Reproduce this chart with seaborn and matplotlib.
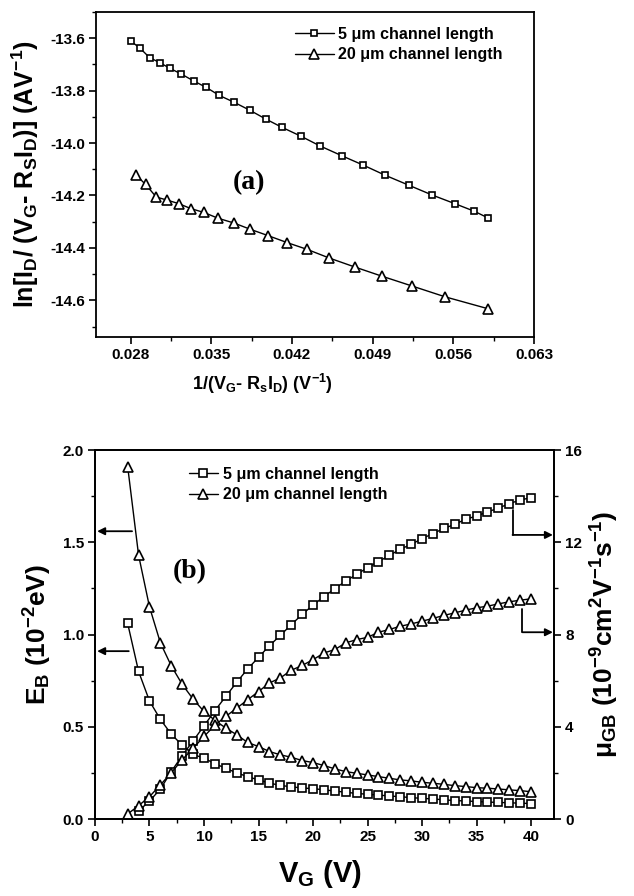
''' Two-panel figure: (a) ln[I_D/(V_G - R_S I_D)] vs 1/(V_G - R_S I_D), (b) barrier height and GB mobility vs V_G. '''

import matplotlib
matplotlib.use('Agg')
import matplotlib.pyplot as plt
import seaborn as sns
from matplotlib.ticker import MultipleLocator, FormatStrFormatter
from matplotlib.lines import Line2D

# ---- panel (a) data ----
inv_v_5um = [0.0280, 0.02884, 0.02965, 0.03052, 0.03142, 0.03241, 0.03351, 0.03458, 0.03568,
             0.03696, 0.03835, 0.03971, 0.04113, 0.04278, 0.04443, 0.04635, 0.04817, 0.05009,
             0.05214, 0.05414, 0.05611, 0.0578, 0.05902]
ln_i_5um = [-13.610, -13.639, -13.674, -13.693, -13.715, -13.737, -13.764, -13.788, -13.818,
            -13.844, -13.875, -13.908, -13.940, -13.974, -14.011, -14.049, -14.084, -14.123,
            -14.161, -14.198, -14.231, -14.260, -14.286]
inv_v_20um = [0.02850, 0.02930, 0.03023, 0.03119, 0.03217, 0.03322, 0.03437, 0.03559, 0.03696,
              0.03838, 0.03991, 0.04159, 0.04333, 0.04525, 0.04745, 0.0498, 0.05238, 0.0553,
              0.05899]
ln_i_20um = [-14.123, -14.158, -14.206, -14.218, -14.231, -14.250, -14.265, -14.287, -14.305,
             -14.329, -14.353, -14.380, -14.406, -14.439, -14.473, -14.508, -14.545, -14.587,
             -14.632]

# ---- panel (b) data ----
vg = list(range(3, 41))
eb_5um = [1.06, 0.80, 0.64, 0.54, 0.46, 0.40, 0.35, 0.33, 0.30, 0.275, 0.25, 0.23, 0.212,
          0.195, 0.182, 0.175, 0.168, 0.165, 0.158, 0.152, 0.145, 0.139, 0.134, 0.130, 0.125,
          0.121, 0.116, 0.112, 0.109, 0.104, 0.100, 0.098, 0.095, 0.092, 0.090, 0.088, 0.086,
          0.084]
eb_20um = [1.91, 1.43, 1.15, 0.955, 0.83, 0.73, 0.65, 0.583, 0.535, 0.493, 0.457, 0.415, 0.393,
           0.366, 0.348, 0.335, 0.317, 0.306, 0.290, 0.272, 0.257, 0.248, 0.239, 0.230, 0.221,
           0.212, 0.207, 0.199, 0.194, 0.188, 0.181, 0.176, 0.170, 0.167, 0.163, 0.158, 0.154,
           0.148]
vg_mu5 = list(range(4, 41))
mu_5um = [0.35, 0.78, 1.30, 2.06, 2.75, 3.39, 4.04, 4.70, 5.32, 5.93, 6.51, 7.01, 7.52, 7.96,
          8.43, 8.87, 9.28, 9.64, 9.99, 10.32, 10.61, 10.90, 11.16, 11.43, 11.70, 11.91, 12.16,
          12.38, 12.60, 12.78, 13.00, 13.14, 13.32, 13.48, 13.68, 13.83, 13.94]
mu_20um = [0.22, 0.58, 0.97, 1.48, 2.01, 2.57, 3.07, 3.58, 4.07, 4.45, 4.81, 5.17, 5.53, 5.90,
           6.12, 6.45, 6.66, 6.91, 7.20, 7.35, 7.64, 7.78, 7.88, 8.10, 8.22, 8.36, 8.46, 8.58,
           8.70, 8.83, 8.94, 9.06, 9.16, 9.23, 9.33, 9.42, 9.49, 9.55]

labels = ['5 \u03bcm channel length', '20 \u03bcm channel length']

sns.set_style('ticks', {'axes.edgecolor': 'k', 'xtick.color': 'k', 'ytick.color': 'k',
                        'text.color': 'k', 'axes.labelcolor': 'k'})
plt.rcParams['font.family'] = ['Liberation Sans', 'DejaVu Sans']
plt.rcParams['font.weight'] = 'bold'
plt.rcParams['mathtext.fontset'] = 'custom'
for k in ('rm', 'it', 'bf', 'sf'):
    plt.rcParams['mathtext.' + k] = 'Liberation Sans:bold'
plt.rcParams['axes.unicode_minus'] = False
plt.rcParams['axes.linewidth'] = 1.3


def draw(ax, x, y, marker, ms):
    sns.lineplot(x=x, y=y, ax=ax, color='k', lw=1.0, marker=marker, markersize=ms,
                 markerfacecolor='white', markeredgecolor='k', markeredgewidth=1.2)


def style_ticks(ax):
    ax.tick_params(which='major', length=5, width=1.2, labelsize=11, pad=3)
    ax.tick_params(which='minor', length=3, width=1.0)


def legend_handles(ms_sq, ms_tri):
    return [Line2D([], [], color='k', lw=1.0, marker='s', markersize=ms_sq,
                   markerfacecolor='white', markeredgecolor='k', markeredgewidth=1.2),
            Line2D([], [], color='k', lw=1.0, marker='^', markersize=ms_tri,
                   markerfacecolor='white', markeredgecolor='k', markeredgewidth=1.2)]


fig = plt.figure(figsize=(6.34, 8.96), dpi=100)

# ---------------- (a) ----------------
ax_a = fig.add_axes([0.1514, 0.6239, 0.691, 0.3627])
draw(ax_a, inv_v_5um, ln_i_5um, 's', 5)
draw(ax_a, inv_v_20um, ln_i_20um, '^', 6.5)
ax_a.set_xlim(0.025, 0.063)
ax_a.set_ylim(-14.74, -13.50)
ax_a.xaxis.set_major_locator(MultipleLocator(0.007))
ax_a.xaxis.set_minor_locator(MultipleLocator(0.0035))
ax_a.xaxis.set_major_formatter(FormatStrFormatter('%.3f'))
ax_a.yaxis.set_major_locator(MultipleLocator(0.2))
ax_a.yaxis.set_minor_locator(MultipleLocator(0.1))
ax_a.yaxis.set_major_formatter(FormatStrFormatter('%.1f'))
style_ticks(ax_a)
ax_a.set_xlabel('1/(V$_G$- R$_s$I$_D$) (V$^{-1}$)', fontsize=13, fontweight='bold')
ax_a.xaxis.set_label_coords(0.38, -0.108)
ax_a.set_ylabel('ln[I$_D$/ (V$_G$- R$_S$I$_D$)] (AV$^{-1}$)', fontsize=18, fontweight='bold')
ax_a.yaxis.set_label_coords(-0.125, 0.5)
ax_a.legend(legend_handles(5, 6.5), labels, loc='upper left', bbox_to_anchor=(0.455, 0.955),
            frameon=False, fontsize=11.5, handlelength=2.4, handletextpad=0.3,
            labelspacing=0.35, borderaxespad=0, borderpad=0)
ax_a.text(0.0383, -14.15, '(a)', fontsize=20, fontfamily='Liberation Serif',
          fontweight='bold', ha='center', va='center')

# ---------------- (b) ----------------
ax_b = fig.add_axes([0.1498, 0.0859, 0.724, 0.4118])
ax_m = ax_b.twinx()
draw(ax_b, vg, eb_5um, 's', 6)
draw(ax_b, vg, eb_20um, '^', 7)
draw(ax_m, vg_mu5, mu_5um, 's', 6)
draw(ax_m, vg, mu_20um, '^', 7)

ax_b.set_xlim(0, 42.1)
ax_b.set_ylim(0, 2.0)
ax_m.set_ylim(0, 16)
ax_b.xaxis.set_major_locator(MultipleLocator(5))
ax_b.xaxis.set_minor_locator(MultipleLocator(2.5))
ax_b.yaxis.set_major_locator(MultipleLocator(0.5))
ax_b.yaxis.set_minor_locator(MultipleLocator(0.25))
ax_b.yaxis.set_major_formatter(FormatStrFormatter('%.1f'))
ax_m.yaxis.set_major_locator(MultipleLocator(4))
ax_m.yaxis.set_minor_locator(MultipleLocator(2))
style_ticks(ax_b)
style_ticks(ax_m)

ax_b.set_xlabel('V$_G$ (V)', fontsize=21, fontweight='bold')
ax_b.xaxis.set_label_coords(0.49, -0.105)
ax_b.set_ylabel('E$_B$ (10$^{-2}$eV)', fontsize=19, fontweight='bold')
ax_b.yaxis.set_label_coords(-0.09, 0.5)
ax_m.set_ylabel('\u03bc$_{GB}$ (10$^{-9}$cm$^2$V$^{-1}$s$^{-1}$)', fontsize=19, fontweight='bold')
ax_m.yaxis.set_label_coords(1.075, 0.5)

ax_m.legend(legend_handles(6, 7), labels, loc='upper left', bbox_to_anchor=(0.205, 0.955),
            frameon=False, fontsize=11.5, handlelength=1.8, handletextpad=0.3,
            labelspacing=0.35, borderaxespad=0, borderpad=0)
ax_b.text(8.7, 1.34, '(b)', fontsize=20, fontfamily='Liberation Serif',
          fontweight='bold', ha='center', va='center')

# arrows pointing at the axis each curve belongs to
arrow = dict(arrowstyle='-|>', color='k', lw=1.3, mutation_scale=11, shrinkA=0, shrinkB=0)
ax_b.annotate('', xy=(0.2, 1.56), xytext=(3.4, 1.56), arrowprops=arrow)
ax_b.annotate('', xy=(0.2, 0.91), xytext=(3.1, 0.91), arrowprops=arrow)
ax_m.plot([38.3, 38.3], [13.4, 12.32], color='k', lw=1.3)
ax_m.annotate('', xy=(42.0, 12.32), xytext=(38.3, 12.32), arrowprops=arrow)
ax_m.plot([39.2, 39.2], [9.1, 8.1], color='k', lw=1.3)
ax_m.annotate('', xy=(42.0, 8.1), xytext=(39.2, 8.1), arrowprops=arrow)

plt.savefig('out.png', dpi=100)
